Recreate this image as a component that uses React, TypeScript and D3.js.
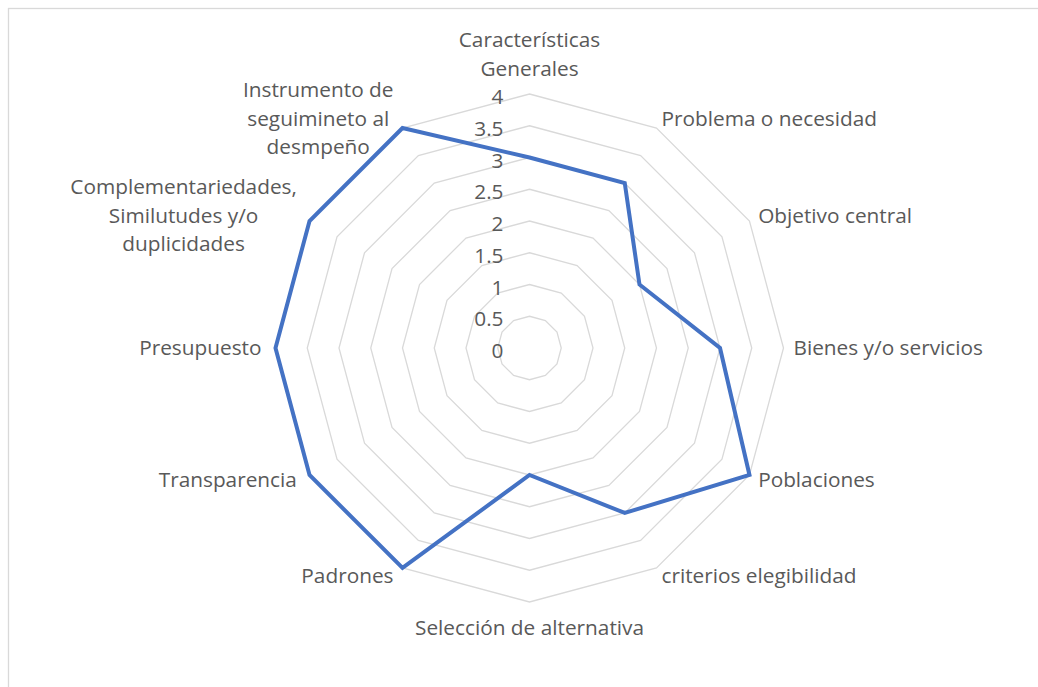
import { useEffect } from 'react'
import { scaleLinear, lineRadial, curveLinearClosed, range } from 'd3'

// categories, clockwise from the top (multi-line labels split with \n)
const categories = [
  'Características\nGenerales',
  'Problema o necesidad',
  'Objetivo central',
  'Bienes y/o servicios',
  'Poblaciones',
  'criterios elegibilidad',
  'Selección de alternativa',
  'Padrones',
  'Transparencia',
  'Presupuesto',
  'Complementariedades,\nSimilutudes y/o\nduplicidades',
  'Instrumento de\nseguimineto al\ndesmpeño',
]

const values = [3, 3, 2, 3, 4, 3, 2, 4, 4, 4, 4, 4]

const ticks = [0, 0.5, 1, 1.5, 2, 2.5, 3, 3.5, 4]

const width = 1038
const height = 687
const cx = 529.5
const cy = 348
const radius = 254
const font = '"Open Sans", Calibri, sans-serif'
const fontSize = 20.8
const lineH = 28.5
const textColor = '#595959'

let measureCtx: CanvasRenderingContext2D | null = null
const textWidth = (s: string) => {
  if (!measureCtx) measureCtx = document.createElement('canvas').getContext('2d')
  if (!measureCtx) return s.length * 8
  measureCtx.font = `${fontSize}px ${font}`
  return measureCtx.measureText(s).width
}

let App = () => {
  useEffect(() => {
    document.body.style.margin = '0'
  }, [])

  let r = scaleLinear().domain([0, 4]).range([0, radius])
  let angle = (i: number) => (i / categories.length) * Math.PI * 2

  let ring = lineRadial<number>()
    .angle((_, i) => angle(i))
    .radius((d) => r(d))
    .curve(curveLinearClosed)

  let dataLine = lineRadial<number>()
    .angle((_, i) => angle(i))
    .radius((d) => r(d))
    .curve(curveLinearClosed)

  return (
    <svg width={width} height={height} style={{ position: 'fixed', left: 0, top: 0, background: '#fff' }}>
      <rect x={8.5} y={8.5} width={width + 20} height={height + 20} fill="none" stroke="#d9d9d9" strokeWidth={1.3} />
      <g transform={`translate(${cx},${cy})`}>
        {ticks.filter((t) => t > 0).map((t) => (
          <path key={t} d={ring(range(categories.length).map(() => t)) || ''} fill="none" stroke="#d9d9d9" strokeWidth={1.3} />
        ))}

        {ticks.map((t) => (
          <text
            key={t}
            x={-26}
            y={-r(t) + 2}
            textAnchor="end"
            dominantBaseline="central"
            fontFamily={font}
            fontSize={fontSize}
            fill={textColor}
          >
            {t}
          </text>
        ))}

        <path d={dataLine(values) || ''} fill="none" stroke="#4472c4" strokeWidth={4} strokeLinejoin="miter" />

        {categories.map((c, i) => {
          let a = angle(i)
          let s = Math.sin(a)
          let co = Math.cos(a)
          let pr = radius + 10
          let ax = pr * s
          let ay = -pr * co
          let lines = c.split('\n')
          let boxW = Math.max(...lines.map(textWidth))
          let centerX = ax
          if (s > 0.1) centerX = ax + boxW / 2
          else if (s < -0.1) centerX = ax - 4 - boxW / 2
          let centerY = ay
          if (Math.abs(s) <= 0.1) {
            centerY = co > 0 ? ay - ((lines.length * lineH) / 2) - 2 : ay + ((lines.length * lineH) / 2) + 1
          } else {
            centerY = ay - 1.5
          }
          let y0 = centerY - ((lines.length - 1) * lineH) / 2
          return (
            <text
              key={c}
              textAnchor="middle"
              dominantBaseline="central"
              fontFamily={font}
              fontSize={fontSize}
              fill={textColor}
            >
              {lines.map((l, j) => (
                <tspan key={j} x={centerX} y={y0 + j * lineH}>
                  {l}
                </tspan>
              ))}
            </text>
          )
        })}
      </g>
    </svg>
  )
}

export default App
